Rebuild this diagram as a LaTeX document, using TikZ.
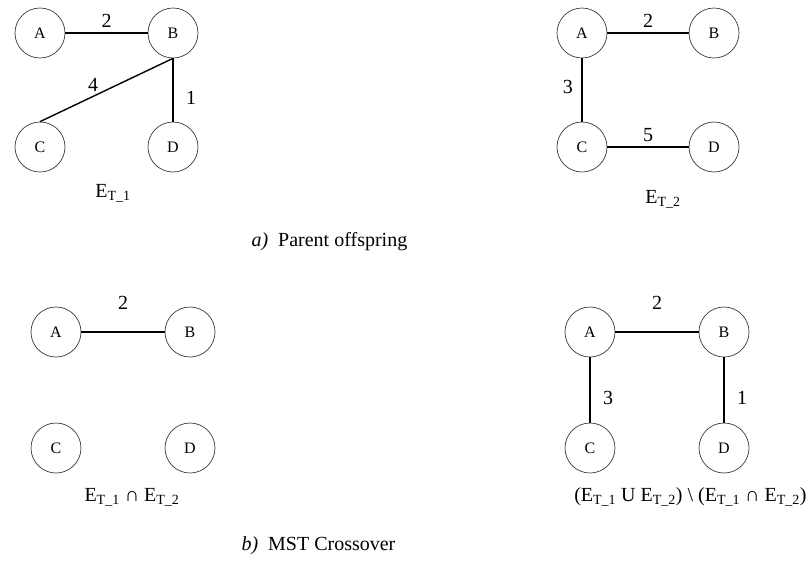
\documentclass[tikz,border=0pt]{standalone}
\usepackage{fontspec}
\setmainfont{Liberation Serif}
\definecolor{ink}{HTML}{000000}
\definecolor{rim}{HTML}{3A3A3A}

\begin{document}
\begin{tikzpicture}[x=1pt,y=-1pt,font=\fontsize{20}{24}\selectfont,text=ink,
  vtx/.style={circle,draw=rim,line width=.7pt,minimum size=50pt,inner sep=0pt,font=\fontsize{16}{19}\selectfont},
  wire/.style={draw=ink,line width=1.4pt}]
  \def\ET#1{E\textsubscript{T\_#1}}
  \useasboundingbox (0,0) rectangle (812,582);
  % a) first parent
  \node[vtx] (pA) at (40,33) {A};
  \node[vtx] (pB) at (173,33) {B};
  \node[vtx] (pC) at (40,147) {C};
  \node[vtx] (pD) at (173,147) {D};
  \draw[wire] (pA)--(pB) node[midway,above=1pt] {2};
  \draw[wire] (pB.south)--(pC.north) node[pos=.6,above=1pt] {4};
  \draw[wire] (pB)--(pD) node[pos=.62,right=9pt] {1};
  \node (pLab) at (113,193) {\ET1};
  % a) second parent
  \node[vtx] (qA) at (582,33) {A};
  \node[vtx] (qB) at (714,33) {B};
  \node[vtx] (qC) at (582,147) {C};
  \node[vtx] (qD) at (714,147) {D};
  \draw[wire] (qA)--(qB) node[midway,above=1pt] {2};
  \draw[wire] (qA)--(qC) node[pos=.45,left=5pt] {3};
  \draw[wire] (qC)--(qD) node[midway,above=1pt] {5};
  \node (qLab) at (663,199) {\ET2};
  \node[anchor=west] (capA) at (248,242) {\textit{a)}\enspace Parent offspring};
  % b) common edges
  \node[vtx] (iA) at (56,332) {A};
  \node[vtx] (iB) at (190,332) {B};
  \node[vtx] (iC) at (56,448) {C};
  \node[vtx] (iD) at (190,448) {D};
  \draw[wire] (iA)--(iB) node[midway,above=18pt] {2};
  \node (iLab) at (132,497) {\ET1 ∩ \ET2};
  % b) remaining edges
  \node[vtx] (dA) at (590,332) {A};
  \node[vtx] (dB) at (724,332) {B};
  \node[vtx] (dC) at (590,448) {C};
  \node[vtx] (dD) at (724,448) {D};
  \draw[wire] (dA)--(dB) node[midway,above=18pt] {2};
  \draw[wire] (dA)--(dC) node[pos=.62,right=9pt] {3};
  \draw[wire] (dB)--(dD) node[pos=.62,right=9pt] {1};
  \node[anchor=east] (dLab) at (810,497) {(\ET1 U \ET2) \textbackslash{} (\ET1 ∩ \ET2)};
  \node[anchor=west] (capB) at (238,546) {\textit{b)}\enspace MST Crossover};
\end{tikzpicture}
\end{document}
